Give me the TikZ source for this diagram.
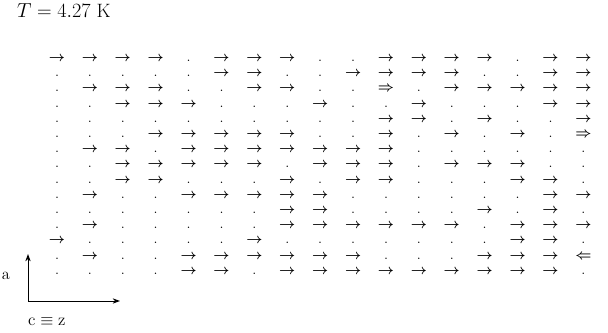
\documentclass[tikz,border=0pt]{standalone}
\usepackage{amsmath, amssymb}
\usepackage{tikz}
\usetikzlibrary{arrows.meta}

% spin symbols used in the grid
\newcommand{\Sr}{$\rightarrow$}
\newcommand{\Sd}{.}
\newcommand{\SR}{$\Rightarrow$}
\newcommand{\SL}{$\Leftarrow$}

\begin{document}
\begin{tikzpicture}[
        x=0.03cm, y=-0.03cm,
        spin/.style={inner sep=0pt, anchor=base, font=\fontsize{12.5}{14}\selectfont\boldmath},
        lab/.style={inner sep=0pt, font=\fontsize{14}{16}\selectfont},
        axis/.style={-{Stealth[length=2.2mm, width=1.6mm]}, line width=0.8pt}
    ]
        \useasboundingbox (0,0) rectangle (608,333);

        % Title
        \node[lab, anchor=base west, font=\fontsize{16.5}{19}\selectfont] (title) at (17,17) {$T = 4.27$ K};

        % Grid
        \foreach \row [count=\j] in {
            {\Sr,\Sr,\Sr,\Sr,\Sd,\Sr,\Sr,\Sr,\Sd,\Sd,\Sr,\Sr,\Sr,\Sr,\Sd,\Sr,\Sr},
            {\Sd,\Sd,\Sd,\Sd,\Sd,\Sr,\Sr,\Sd,\Sd,\Sr,\Sr,\Sr,\Sr,\Sd,\Sd,\Sr,\Sr},
            {\Sd,\Sr,\Sr,\Sr,\Sd,\Sd,\Sr,\Sr,\Sd,\Sd,\SR,\Sd,\Sr,\Sr,\Sr,\Sr,\Sr},
            {\Sd,\Sd,\Sr,\Sr,\Sr,\Sd,\Sd,\Sd,\Sr,\Sd,\Sd,\Sr,\Sd,\Sd,\Sd,\Sr,\Sr},
            {\Sd,\Sd,\Sd,\Sd,\Sd,\Sd,\Sd,\Sd,\Sd,\Sd,\Sr,\Sr,\Sd,\Sr,\Sd,\Sd,\Sr},
            {\Sd,\Sd,\Sd,\Sr,\Sr,\Sr,\Sr,\Sr,\Sd,\Sd,\Sr,\Sd,\Sr,\Sd,\Sr,\Sd,\SR},
            {\Sd,\Sr,\Sr,\Sd,\Sr,\Sr,\Sr,\Sr,\Sr,\Sr,\Sr,\Sd,\Sd,\Sd,\Sd,\Sd,\Sd},
            {\Sd,\Sd,\Sr,\Sr,\Sr,\Sr,\Sr,\Sd,\Sr,\Sr,\Sr,\Sd,\Sr,\Sr,\Sr,\Sd,\Sd},
            {\Sd,\Sd,\Sr,\Sr,\Sd,\Sd,\Sd,\Sr,\Sd,\Sr,\Sr,\Sd,\Sd,\Sd,\Sr,\Sr,\Sd},
            {\Sd,\Sr,\Sd,\Sd,\Sr,\Sr,\Sr,\Sr,\Sr,\Sd,\Sd,\Sd,\Sd,\Sd,\Sd,\Sr,\Sr},
            {\Sd,\Sd,\Sd,\Sd,\Sd,\Sd,\Sd,\Sr,\Sr,\Sd,\Sd,\Sd,\Sd,\Sr,\Sd,\Sr,\Sd},
            {\Sd,\Sr,\Sd,\Sd,\Sd,\Sd,\Sd,\Sr,\Sr,\Sr,\Sr,\Sr,\Sr,\Sd,\Sr,\Sr,\Sr},
            {\Sr,\Sd,\Sd,\Sd,\Sd,\Sd,\Sr,\Sd,\Sd,\Sd,\Sd,\Sd,\Sd,\Sd,\Sr,\Sr,\Sd},
            {\Sd,\Sr,\Sd,\Sd,\Sr,\Sr,\Sr,\Sr,\Sr,\Sr,\Sd,\Sd,\Sd,\Sr,\Sr,\Sr,\SL},
            {\Sd,\Sd,\Sd,\Sd,\Sr,\Sr,\Sd,\Sr,\Sr,\Sr,\Sr,\Sr,\Sr,\Sr,\Sr,\Sr,\Sd}}
            \foreach \s [count=\i] in \row
                \node[spin] (s-\j-\i) at ({57+32.9*(\i-1)}, {61.5+15.2*(\j-1)}) {\s};

        % Axes
        \coordinate (o) at (28,301);
        \coordinate (atip) at (28,254);
        \coordinate (ctip) at (120,301);
        \draw[axis] (o) -- (atip);
        \draw[axis] (o) -- (ctip);
        \node[lab, anchor=base] (alab) at (6,279) {a};
        \node[lab, anchor=base west] (clab) at (28,325) {$\mathrm{c} \equiv \mathrm{z}$};
    \end{tikzpicture}
\end{document}
